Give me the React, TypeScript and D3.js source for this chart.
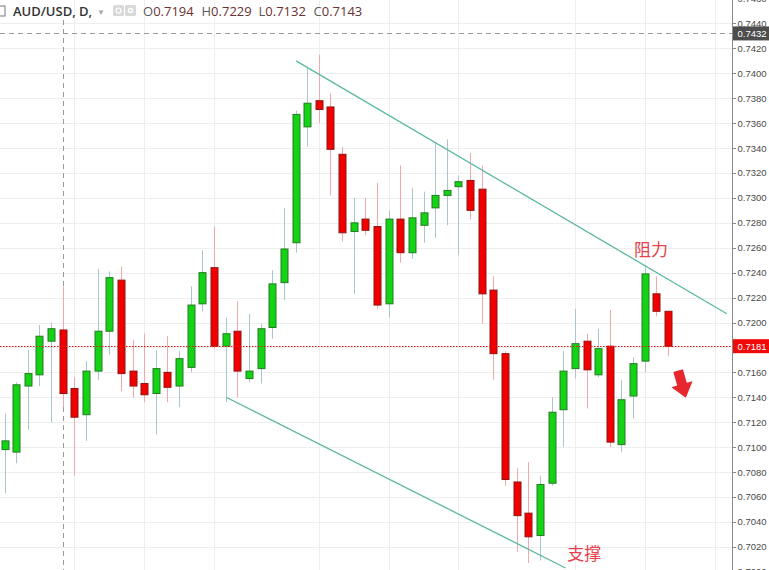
import React from "react";
import * as d3 from "d3";

const opens = [0.7098,0.7096,0.7149,0.7158,0.7185,0.7194,0.7147,0.7126,0.7161,0.7193,0.7234,0.7161,0.7151,0.7143,0.7160,0.7149,0.7164,0.7215,0.7244,0.7181,0.7193,0.7155,0.7163,0.7196,0.7232,0.7264,0.7357,0.7378,0.7373,0.7335,0.7273,0.7283,0.7277,0.7215,0.7283,0.7256,0.7278,0.7292,0.7302,0.7309,0.7314,0.7307,0.7226,0.7175,0.7072,0.7047,0.7029,0.7071,0.7130,0.7163,0.7185,0.7158,0.7181,0.7102,0.7141,0.7169,0.7223,0.7209];
const highs = [0.7127,0.7152,0.7178,0.7198,0.7200,0.7229,0.7156,0.7169,0.7243,0.7241,0.7245,0.7186,0.7191,0.7178,0.7189,0.7177,0.7229,0.7258,0.7277,0.7204,0.7217,0.7207,0.7199,0.7242,0.7292,0.7370,0.7405,0.7415,0.7384,0.7341,0.7300,0.7300,0.7312,0.7290,0.7326,0.7308,0.7305,0.7344,0.7347,0.7318,0.7336,0.7326,0.7237,0.7177,0.7083,0.7088,0.7077,0.7140,0.7177,0.7211,0.7191,0.7195,0.7210,0.7154,0.7172,0.7245,0.7237,0.7209];
const lows = [0.7063,0.7087,0.7114,0.7149,0.7120,0.7132,0.7077,0.7105,0.7154,0.7174,0.7145,0.7140,0.7136,0.7110,0.7136,0.7132,0.7160,0.7209,0.7179,0.7136,0.7140,0.7152,0.7151,0.7187,0.7218,0.7256,0.7341,0.7360,0.7302,0.7265,0.7223,0.7270,0.7211,0.7204,0.7248,0.7251,0.7264,0.7268,0.7278,0.7254,0.7283,0.7199,0.7154,0.7069,0.7016,0.7007,0.7009,0.7069,0.7100,0.7155,0.7131,0.7156,0.7100,0.7096,0.7123,0.7160,0.7205,0.7173];
const closes = [0.7105,0.7150,0.7159,0.7189,0.7195,0.7143,0.7124,0.7161,0.7193,0.7236,0.7159,0.7149,0.7142,0.7163,0.7148,0.7171,0.7214,0.7240,0.7181,0.7191,0.7161,0.7161,0.7195,0.7231,0.7259,0.7367,0.7376,0.7371,0.7339,0.7272,0.7280,0.7274,0.7214,0.7283,0.7256,0.7284,0.7288,0.7302,0.7306,0.7313,0.7290,0.7223,0.7175,0.7074,0.7045,0.7028,0.7070,0.7128,0.7161,0.7183,0.7162,0.7179,0.7104,0.7138,0.7167,0.7239,0.7209,0.7181];

const priceTicks = d3.range(0, 24).map((i) => +(0.7 + i * 0.002).toFixed(4));
const gridBars = [6, 12, 18, 27, 33, 39, 49, 55, 61];
const resistanceLine = [[25.05, 0.7410], [62.05, 0.7207]];
const supportLine = [[19.05, 0.7140], [48.2, 0.7003]];
const lastPrice = 0.7181;
const crossPrice = 0.7432;
const crossBar = 5;
const headerLabels = ["O", "H", "L", "C"];
const headerValues = ["0.7194", "0.7229", "0.7132", "0.7143"];

const W = 769, H = 570, AX = 732;

export default function App() {
  const x = d3.scaleLinear().domain([0, 57]).range([4.5, 668]);
  const y = d3.scaleLinear().domain([0.7, 0.74]).range([571.7, 73.3]);
  const bw = 7;
  const line = d3.line<number[]>().x((d) => x(d[0])).y((d) => y(d[1]));
  const headerX = [143, 201.5, 258.5, 313.5];
  const arrowPts = "-5,-14 5,-14 5,0 11,0 0,14 -11,0 -5,0";
  return (
    <div style={{ position: "fixed", left: 0, top: 0, width: W, height: H, background: "#fff" }}>
      <svg width={W} height={H} style={{ display: "block" }}>
        <rect x={0} y={0} width={W} height={H} fill="#fff" />
        {/* grid */}
        {priceTicks.map((p) => (
          <line key={"h" + p} x1={0} x2={AX} y1={Math.round(y(p)) + 0.5} y2={Math.round(y(p)) + 0.5} stroke="#eeeeee" strokeWidth={1} />
        ))}
        {gridBars.map((b) => (
          <line key={"v" + b} x1={Math.round(x(b)) + 0.5} x2={Math.round(x(b)) + 0.5} y1={0} y2={H} stroke="#eeeeee" strokeWidth={1} />
        ))}
        {/* crosshair */}
        <line x1={Math.round(x(crossBar)) + 0.5} x2={Math.round(x(crossBar)) + 0.5} y1={20} y2={H} stroke="#9a9a9a" strokeDasharray="5,4" strokeWidth={1} />
        <line x1={0} x2={AX} y1={Math.round(y(crossPrice)) + 0.5} y2={Math.round(y(crossPrice)) + 0.5} stroke="#9a9a9a" strokeDasharray="5,4" strokeWidth={1} />
        {/* candles */}
        {opens.map((o, i) => {
          const c = closes[i];
          const up = c >= o;
          const cx = Math.round(x(i)) + 0.5;
          const top = y(Math.max(o, c));
          const bot = y(Math.min(o, c));
          return (
            <g key={"c" + i}>
              <line x1={cx} x2={cx} y1={y(highs[i])} y2={y(lows[i])} stroke={up ? "#a9c6cf" : "#f3a7a7"} strokeWidth={1} />
              <rect x={cx - bw / 2} y={top} width={bw} height={Math.max(1, bot - top)} fill={up ? "#14d314" : "#f20000"} stroke={up ? "#237a23" : "#8e1212"} strokeWidth={1} />
            </g>
          );
        })}
        {/* last price line */}
        <line x1={0} x2={AX} y1={Math.round(y(lastPrice)) + 0.5} y2={Math.round(y(lastPrice)) + 0.5} stroke="#f01010" strokeDasharray="1.5,1.5" strokeWidth={1} />
        {/* trend lines */}
        <path d={line(resistanceLine) || ""} stroke="#5cb8a2" strokeWidth={1.3} fill="none" />
        <path d={line(supportLine) || ""} stroke="#5cb8a2" strokeWidth={1.3} fill="none" />
        {/* annotations */}
        <text x={x(55.55)} y={y(0.72535)} fontFamily="'Noto Sans CJK SC', sans-serif" fontSize={17} fill="#e5424d" textAnchor="middle">阻力</text>
        <text x={x(49.8)} y={y(0.70095)} fontFamily="'Noto Sans CJK SC', sans-serif" fontSize={17} fill="#e5424d" textAnchor="middle">支撑</text>
        <g transform={`translate(${x(58.2)},${y(0.71505)}) rotate(-16)`}>
          <polygon points={arrowPts} fill="#e8262e" />
        </g>
        {/* axis */}
        <rect x={AX} y={0} width={W - AX} height={H} fill="#fff" />
        <line x1={AX + 0.5} x2={AX + 0.5} y1={0} y2={H} stroke="#8a8a8a" strokeWidth={1} />
        {priceTicks.map((p) => (
          <g key={"t" + p}>
            <line x1={AX} x2={AX + 4} y1={Math.round(y(p)) + 0.5} y2={Math.round(y(p)) + 0.5} stroke="#8a8a8a" />
            <text x={AX + 5.5} y={y(p) + 3.5} fontFamily="'Liberation Sans', Arial, sans-serif" fontSize={9.5} fill="#4a4a4a">{p.toFixed(4)}</text>
          </g>
        ))}
        <rect x={AX + 1} y={y(crossPrice) - 7} width={W - AX - 1} height={14} fill="#4d4d4d" />
        <text x={AX + 5.5} y={y(crossPrice) + 3.5} fontFamily="'Liberation Sans', Arial, sans-serif" fontSize={9.5} fill="#fff">{crossPrice.toFixed(4)}</text>
        <rect x={AX + 1} y={y(lastPrice) - 7} width={W - AX - 1} height={14} fill="#f00a0a" />
        <text x={AX + 5.5} y={y(lastPrice) + 3.5} fontFamily="'Liberation Sans', Arial, sans-serif" fontSize={9.5} fill="#fff">{lastPrice.toFixed(4)}</text>
        {/* header */}
        <rect x={-3} y={6} width={8} height={10} fill="none" stroke="#777" strokeWidth={1} />
        <text x={13} y={16} fontFamily="'Open Sans', sans-serif" fontWeight={600} fontSize={13} fill="#333">AUD/USD, D,</text>
        <text x={97} y={15} fontFamily="'Open Sans', sans-serif" fontSize={8} fill="#aaa">▼</text>
        <rect x={113} y={5} width={11} height={11} rx={1.5} fill="#d9d9d9" />
        <circle cx={118.5} cy={10.5} r={2.5} fill="none" stroke="#fff" strokeWidth={1.2} />
        <rect x={125} y={5} width={11} height={11} rx={1.5} fill="#d9d9d9" />
        <circle cx={130.5} cy={10.5} r={2.8} fill="#fff" />
        <circle cx={130.5} cy={10.5} r={1.2} fill="#d9d9d9" />
        {headerLabels.map((l, i) => (
          <text key={l} x={headerX[i]} y={16} fontFamily="'Open Sans', sans-serif" fontSize={13} fill="#555">
            <tspan fill="#5a5a5a">{l}</tspan>
            <tspan fill="#6b3030">{headerValues[i]}</tspan>
          </text>
        ))}
      </svg>
    </div>
  );
}
